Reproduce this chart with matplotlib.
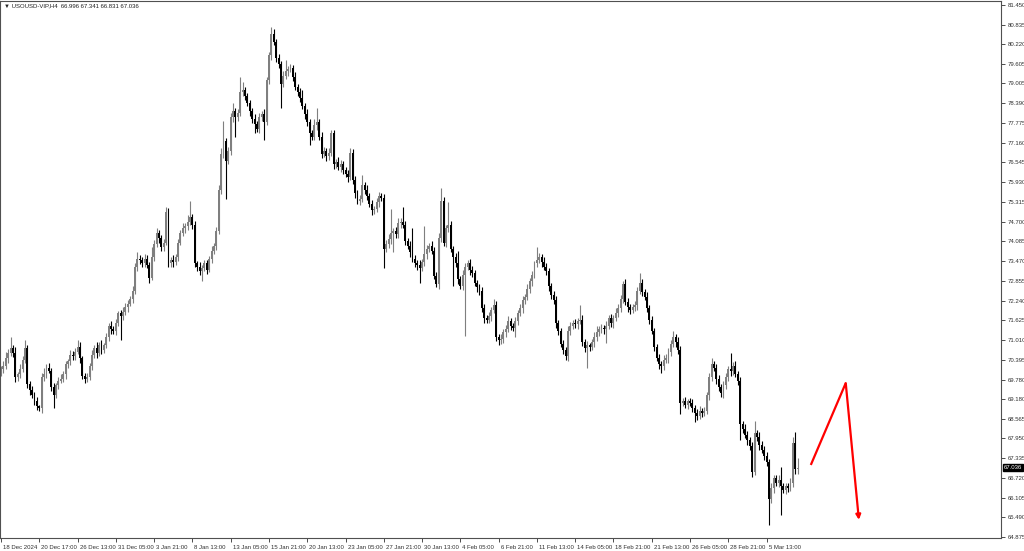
import numpy as np
import matplotlib
matplotlib.use("Agg")
import matplotlib.pyplot as plt
import matplotlib.transforms as mtransforms

# USOUSD H4 closes, one per bar
closes = [
    70.10, 70.20, 70.45, 70.62, 70.75, 70.60, 69.85, 69.95, 70.10, 70.40,
    70.75, 69.65, 69.45, 69.30, 69.10, 68.95, 68.90, 69.85, 69.95, 70.15,
    70.05, 69.55, 69.30, 69.60, 69.75, 69.80, 69.95, 70.25, 70.35, 70.55,
    70.50, 70.65, 70.80, 70.45, 69.90, 69.80, 69.85, 70.20, 70.55, 70.75,
    70.60, 70.85, 70.70, 70.85, 71.10, 71.45, 71.35, 71.30, 71.55, 71.85,
    71.75, 71.90, 72.05, 72.15, 72.30, 72.55, 73.30, 73.55, 73.50, 73.40,
    73.55, 73.35, 72.95, 73.60, 74.00, 74.35, 74.20, 73.90, 74.05, 75.00,
    73.40, 73.50, 73.45, 73.60, 74.05, 74.35, 74.50, 74.55, 74.70, 74.85,
    74.60, 73.40, 73.30, 73.15, 73.25, 73.40, 73.20, 73.55, 73.80, 73.95,
    74.40, 75.70, 76.80, 77.20, 76.60, 76.90, 77.95, 78.15, 77.95, 78.10,
    78.75, 78.80, 78.60, 78.40, 78.15, 77.90, 77.75, 77.60, 77.95, 78.05,
    77.80, 79.10, 79.90, 80.55, 80.30, 79.80, 79.60, 79.00, 79.25, 79.40,
    79.45, 79.50, 79.20, 78.90, 78.75, 78.55, 78.30, 78.05, 77.80, 77.45,
    77.35, 77.70, 77.80, 77.35, 76.80, 76.90, 76.75, 76.85, 77.45, 76.50,
    76.55, 76.40, 76.50, 76.30, 76.20, 76.10, 76.85, 76.00, 75.60, 75.35,
    75.40, 75.85, 75.70, 75.50, 75.25, 75.05, 75.10, 75.30, 75.50, 75.45,
    73.85, 74.00, 74.15, 74.35, 74.40, 74.30, 74.65, 74.70, 74.60, 74.10,
    73.95, 73.75, 73.55, 73.40, 73.35, 73.25, 73.45, 73.70, 73.85, 73.95,
    73.80, 73.00, 72.75, 74.20, 75.35, 74.05, 74.50, 74.60, 73.85, 73.60,
    73.40, 72.90, 72.70, 73.05, 73.30, 73.40, 73.20, 73.10, 72.80, 72.65,
    72.55, 72.00, 71.70, 71.65, 71.75, 71.95, 72.10, 71.10, 71.00, 71.05,
    71.25, 71.35, 71.60, 71.45, 71.40, 71.60, 71.85, 72.00, 72.25, 72.35,
    72.60, 72.85, 73.05, 73.40, 73.50, 73.60, 73.45, 73.30, 73.15, 72.70,
    72.40, 72.25, 71.55, 71.30, 70.90, 70.70, 70.50, 71.30, 71.45, 71.55,
    71.50, 71.60, 71.65, 70.95, 70.75, 70.85, 70.80, 70.95, 71.10, 71.25,
    71.35, 71.40, 71.35, 71.45, 71.70, 71.55, 71.70, 71.85, 72.00, 72.30,
    72.75, 72.20, 72.05, 71.95, 72.05, 72.10, 72.55, 72.80, 72.50, 72.35,
    72.00, 71.65, 71.30, 70.80, 70.45, 70.25, 70.20, 70.40, 70.45, 70.65,
    70.90, 71.10, 70.95, 70.70, 69.05, 69.10, 69.00, 69.10, 69.05, 68.90,
    68.75, 68.65, 68.80, 68.75, 68.80, 69.30, 69.85, 70.25, 70.15, 69.80,
    69.55, 69.35, 69.60, 69.85, 70.10, 70.05, 70.20, 69.95, 69.75, 68.40,
    68.25, 68.05, 67.90, 67.70, 66.90, 68.10, 68.00, 67.75, 67.60, 67.40,
    67.20, 66.05, 66.40, 66.70, 66.55, 66.65, 66.45, 66.35, 66.45, 66.40,
    66.55, 67.80, 67.00, 67.036,
]

# upper / lower wick lengths beyond the body
upper_wick = [
    .10, .15, .20, .12, .35, .10, .20, .08, .15, .12,
    .25, .10, .08, .12, .10, .15, .05, .12, .20, .10,
    .15, .10, .12, .08, .10, .15, .10, .12, .08, .15,
    .12, .10, .20, .15, .08, .10, .12, .10, .15, .10,
    .20, .10, .15, .08, .12, .10, .15, .10, .12, .08,
    .10, .15, .12, .10, .08, .15, .10, .20, .12, .10,
    .15, .10, .08, .30, .12, .15, .10, .08, .12, .15,
    .12, .10, .15, .08, .12, .10, .15, .12, .20, .50,
    .10, .12, .08, .15, .10, .12, .10, .08, .15, .10,
    .12, .15, .20, .65, .10, .12, .15, .25, .10, .12,
    .45, .25, .10, .12, .08, .10, .15, .10, .12, .10,
    .15, .12, .10, .20, .15, .10, .12, .10, .15, .35,
    .10, .12, .08, .15, .10, .12, .25, .10, .15, .10,
    .12, .20, .45, .10, .15, .12, .10, .15, .10, .12,
    .10, .15, .12, .08, .10, .12, .15, .10, .12, .10,
    .12, .30, .10, .15, .08, .12, .10, .15, .12, .10,
    .10, .12, .15, .75, .10, .12, .15, .10, .45, .12,
    .10, .15, .75, .10, .12, .15, .10, .85, .12, .10,
    .15, .10, .12, .15, .40, .12, .10, .70, .12, .10,
    .12, .40, .10, .15, .12, .10, .15, .12, .10, .08,
    .12, .10, .15, .08, .12, .10, .20, .12, .10, .15,
    .10, .12, .15, .10, .08, .12, .10, .15, .12, .10,
    .15, .10, .12, .08, .40, .12, .10, .15, .10, .12,
    .10, .15, .12, .10, .08, .12, .10, .15, .12, .10,
    .12, .10, .45, .15, .10, .12, .08, .10, .15, .20,
    .10, .12, .08, .15, .10, .12, .10, .15, .12, .10,
    .10, .15, .12, .10, .08, .12, .10, .30, .12, .10,
    .15, .10, .12, .08, .10, .12, .10, .15, .12, .10,
    .12, .20, .10, .15, .12, .10, .15, .08, .10, .12,
    .10, .12, .15, .10, .12, .10, .15, .20, .12, .10,
    .12, .10, .15, .12, .10, .50, .12, .15, .10, .12,
    .10, .15, .12, .10, .12, .40, .10, .15, .12, .10,
    .12, .10, .15, .12, .10, .15, .40, .10, .12, .10,
    .15, .20, .35, .305,
]
lower_wick = [
    .12, .10, .08, .15, .10, .12, .15, .10, .12, .08,
    .10, .12, .15, .10, .12, .12, .10, .15, .10, .12,
    .08, .12, .40, .10, .12, .08, .10, .15, .10, .12,
    .10, .12, .08, .15, .10, .12, .10, .08, .12, .10,
    .15, .10, .12, .10, .08, .12, .15, .10, .12, .10,
    .75, .12, .10, .15, .08, .12, .10, .15, .12, .10,
    .12, .10, .15, .08, .12, .10, .15, .12, .10, .08,
    .12, .10, .15, .10, .12, .08, .10, .15, .12, .10,
    .12, .10, .15, .12, .30, .10, .12, .08, .15, .10,
    .12, .10, .15, .12, 1.20, .10, .12, .15, .60, .12,
    .10, .15, .12, .10, .15, .12, .30, .10, .15, .12,
    .55, .10, .12, .15, .10, .12, .10, .75, .12, .10,
    .15, .10, .12, .10, .15, .12, .10, .15, .12, .35,
    .10, .12, .15, .10, .12, .10, .15, .12, .10, .15,
    .12, .10, .15, .12, .10, .15, .10, .12, .15, .10,
    .12, .10, .15, .12, .10, .15, .12, .10, .15, .12,
    .60, .10, .12, .15, .60, .10, .12, .15, .10, .12,
    .10, .15, .12, .10, .15, .45, .10, .12, .15, .10,
    .12, .10, .10, .15, .12, .10, .15, .12, .10, .90,
    .12, .15, .10, .12, 1.90, .10, .15, .12, .10, .15,
    .12, .10, .15, .12, .10, .15, .10, .12, .15, .10,
    .12, .15, .10, .12, .10, .30, .12, .10, .15, .12,
    .10, .12, .15, .10, .12, .10, .15, .12, .10, .15,
    .12, .10, .15, .12, .10, .12, .10, .15, .12, .10,
    .12, .15, .10, .12, .10, .60, .12, .10, .15, .12,
    .10, .12, .15, .43, .10, .12, .15, .10, .12, .10,
    .12, .10, .15, .12, .10, .12, .15, .10, .12, .10,
    .12, .15, .10, .12, .10, .15, .20, .12, .10, .15,
    .12, .10, .15, .12, .35, .10, .12, .15, .10, .12,
    .30, .12, .10, .15, .12, .10, .15, .12, .10, .15,
    .12, .10, .15, .12, .10, .15, .12, .10, .15, .50,
    .12, .10, .15, .12, .15, .10, .12, .15, .10, .12,
    .10, .80, .12, .15, .10, .12, .90, .10, .15, .12,
    .10, .12, .15, .165,
]
first_open = 70.00
last_open = 66.996

price_ticks = [81.450, 80.835, 80.220, 79.605, 79.005, 78.390, 77.775, 77.160,
               76.545, 75.930, 75.315, 74.700, 74.085, 73.470, 72.855, 72.240,
               71.625, 71.010, 70.395, 69.780, 69.180, 68.565, 67.950, 67.335,
               66.720, 66.105, 65.490, 64.875]

time_labels = ["18 Dec 2024", "20 Dec 17:00", "26 Dec 13:00", "31 Dec 05:00",
               "3 Jan 21:00", "8 Jan 13:00", "13 Jan 05:00", "15 Jan 21:00",
               "20 Jan 13:00", "23 Jan 05:00", "27 Jan 21:00", "30 Jan 13:00",
               "4 Feb 05:00", "6 Feb 21:00", "11 Feb 13:00", "14 Feb 05:00",
               "18 Feb 21:00", "21 Feb 13:00", "26 Feb 05:00", "28 Feb 21:00",
               "5 Mar 13:00"]
bars_per_label = 16

# red projection arrow (bar index, price)
arrow_x = [338.5, 353.1, 358.6]
arrow_y = [67.12, 69.67, 65.41]

header = "\u25bc USOUSD-VIP,H4  66.996 67.341 66.831 67.036"

# build OHLC
c = np.array(closes)
o = np.r_[first_open, c[:-1]]
o[-1] = last_open
h = np.maximum(o, c) + np.array(upper_wick)
l = np.minimum(o, c) - np.array(lower_wick)
idx = np.arange(len(c))
up = c >= o

plt.rcParams['font.family'] = ['Liberation Sans', 'DejaVu Sans']

fig = plt.figure(figsize=(10.24, 5.51), dpi=100)
ax = fig.add_axes([0.0, 13 / 551, 1001 / 1024, 537 / 551])

bull_col = "#7f7f7f"
bear_col = "#000000"
cols = np.where(up, bull_col, bear_col)

ax.vlines(idx, l, h, colors=cols, linewidth=0.8)
body_lo = np.minimum(o, c)
body_h = np.maximum(np.abs(c - o), 0.02)
ax.bar(idx, body_h, bottom=body_lo, width=0.8, color=cols, linewidth=0)

# projection
ax.plot(arrow_x[:2], arrow_y[:2], color="#ff0000", lw=1.6, solid_capstyle="butt")
ax.annotate("", xy=(arrow_x[2], arrow_y[2]), xytext=(arrow_x[1], arrow_y[1]),
            arrowprops=dict(arrowstyle="-|>", color="#ff0000", lw=1.6,
                            mutation_scale=7, shrinkA=0, shrinkB=0))

ax.set_xlim(-0.42, 418.0)
ax.set_ylim(64.844, 81.575)

for s in ax.spines.values():
    s.set_color("#505050")
    s.set_linewidth(0.8)

ax.yaxis.tick_right()
ax.set_yticks(price_ticks)
ax.set_yticklabels([f"{v:.3f}" for v in price_ticks])
ax.tick_params(axis="y", length=3, width=0.6, pad=1.5, labelsize=4.3, colors="#303030")

xt = [i * bars_per_label for i in range(len(time_labels))]
ax.set_xticks(xt)
ax.set_xticklabels(time_labels, ha="left")
ax.tick_params(axis="x", length=3, width=0.6, pad=2, labelsize=4.3, colors="#303030")
shift = mtransforms.ScaledTranslation(2 / 100, 0, fig.dpi_scale_trans)
for lab in ax.get_xticklabels():
    lab.set_transform(lab.get_transform() + shift)

# current price tag
ax.text(1.003, c[-1], f"{c[-1]:.3f}", transform=ax.get_yaxis_transform(),
        fontsize=4.3, color="white", va="center", ha="left",
        bbox=dict(boxstyle="square,pad=0.2", fc="black", ec="black"))

ax.text(4 / 1001, 1 - 5 / 537, header, transform=ax.transAxes,
        fontsize=4.3, va="center", ha="left", color="#202020")

fig.savefig("out.png", dpi=100)
